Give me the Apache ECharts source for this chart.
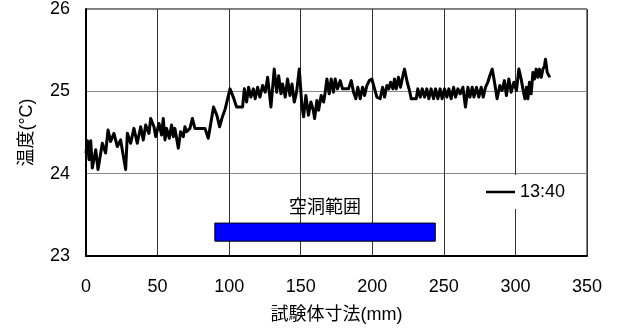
<!DOCTYPE html>
<html>
<head>
<meta charset="utf-8">
<script src="https://cdn.jsdelivr.net/npm/echarts@6/dist/echarts.min.js"></script>
<style>html,body{margin:0;padding:0;background:#fff}#c{width:617px;height:329px}</style>
</head>
<body>
<div id="c"></div>
<script>
const positions = [0,1,2.1,3.3,4.4,6.8,8.4,11.4,13.7,15.4,17.2,19.5,21.9,24.2,26.1,27.7,28.9,31.2,33.5,35.8,38.2,40,41.7,44,45.2,47.5,48.7,51,
52.8,54,55.2,56.3,58.2,59.8,61,62.1,64.5,66.1,68,69.1,70.3,72.6,74.3,76.1,83.1,85.4,89.1,91.4,93.3,94.9,97.3,100.6,102.9,105.2,109.4,
110.6,112.2,113.6,115.2,116.9,118.2,119.9,121.5,123.4,125.2,126.9,129.2,131.5,133.2,134.6,136.2,137.3,139.2,140.8,142.5,143.9,145.5,147.1,149,150.8,152,153.6,155.4,157.1,158.8,159.7,161.3,162.5,164.3,166,167.1,168.3,169.9,171.3,172.9,174.1,175.7,177.6,179.2,183.4,185.3,186.9,188.5,189.9,191.6,193.2,194.6,196.2,197.9,199.7,201.6,203.2,205.5,207.2,208.6,210.2,211.5,212.8,214.4,215.5,216.7,218.3,219.7,221.4,222.5,224.4,226,227.2,230.7,231.8,233.5,234.9,236.5,238.1,239.5,241.1,242.8,244.2,245.8,247.4,248.8,250.5,252.1,253.5,255.1,256.8,258.2,259.8,261.4,263.3,265.1,266.8,268.2,269.8,271,272.8,274.4,276.1,277.5,279.1,280.7,282.1,283.8,285.4,287.2,289.1,290.7,292.3,293.7,295.4,297,298.9,300.7,302.4,304,305.4,306.6,307.7,308.7,309.8,311,312.2,313.3,314.5,315.7,316.8,318,319.2,320.3,321,322.2,324];
const temps1340 = [24.25,24.4,24.17,24.4,24.07,24.29,24.05,24.37,24.25,24.53,24.39,24.49,24.33,24.41,24.21,24.05,24.49,24.37,24.55,24.37,24.57,24.41,24.59,24.49,24.67,24.57,24.45,24.61,
24.47,24.67,24.41,24.55,24.43,24.59,24.45,24.55,24.31,24.51,24.45,24.57,24.51,24.55,24.67,24.55,24.55,24.43,24.81,24.71,24.57,24.67,24.79,25.03,24.93,24.81,24.81,
25.03,24.87,25.05,24.93,25.03,24.91,25.05,24.93,25.07,24.99,25.17,24.81,25.27,24.99,25.19,24.97,25.09,24.93,25.15,24.95,25.09,24.87,24.99,25.27,24.83,24.69,24.95,24.71,24.87,24.77,24.67,24.89,24.77,24.95,24.87,24.99,25.15,24.97,25.15,24.99,25.15,25.03,25.13,25.03,25.03,25.13,24.99,24.91,25.05,24.91,25.05,24.95,25.07,25.13,25.15,25.03,24.93,24.91,25.05,24.93,25.07,25.03,25.11,25.03,25.15,25.03,25.17,25.05,25.19,25.27,25.11,25.01,24.91,24.91,25.03,24.93,25.03,24.93,25.03,24.91,25.03,24.91,25.03,24.91,25.03,24.91,25.03,24.93,25.03,24.91,25.05,24.93,25.03,24.97,25.05,24.81,25.05,24.93,25.05,24.93,25.05,24.93,25.05,24.93,25.05,25.11,25.19,25.27,25.11,24.91,25.07,25.01,25.13,24.95,25.15,24.99,25.11,25.01,25.27,25.15,25.01,24.91,25.05,24.91,25.11,24.97,25.23,25.15,25.27,25.17,25.27,25.17,25.27,25.31,25.39,25.23,25.17];
const seriesName = '13:40';
const cavityStart = 90, cavityEnd = 244, cavityLow = 23.18, cavityHigh = 23.4;
const cavityLabel = '空洞範囲';
const xTitle = '試験体寸法(mm)';
const yTitle = '温度(°C)';

const FONT = "'Liberation Sans', 'Noto Sans CJK JP', sans-serif";
const chart = echarts.init(document.getElementById('c'), null, {renderer: 'canvas'});
chart.setOption({
  animation: false,
  backgroundColor: '#fff',
  textStyle: {fontFamily: FONT, color: '#000'},
  grid: {left: 86, right: 30, top: 7, bottom: 72, show: true, borderColor: '#000', borderWidth: 1, backgroundColor: 'transparent'},
  legend: {
    data: [{name: seriesName, icon: 'rect'}],
    left: 481, top: 175, itemWidth: 29, itemHeight: 2.5,
    padding: [8, 5, 8, 5], backgroundColor: '#fff',
    textStyle: {fontSize: 18, color: '#000', fontFamily: FONT},
    selectedMode: false
  },
  xAxis: {
    type: 'value', min: 0, max: 350, interval: 50,
    name: xTitle, nameLocation: 'middle', nameGap: 50,
    nameTextStyle: {fontSize: 18, color: '#000', fontFamily: FONT},
    axisLine: {show: true, onZero: false, lineStyle: {color: '#000', width: 2}},
    axisTick: {show: false},
    axisLabel: {fontSize: 18, color: '#000', margin: 22, fontFamily: FONT},
    splitLine: {show: true, lineStyle: {color: '#333', width: 1}}
  },
  yAxis: {
    type: 'value', min: 23, max: 26, interval: 1,
    name: yTitle, nameLocation: 'middle', nameGap: 50, nameRotate: 90,
    nameTextStyle: {fontSize: 18, color: '#000', fontFamily: FONT},
    axisLine: {show: true, lineStyle: {color: '#000', width: 2}},
    axisTick: {show: false},
    axisLabel: {fontSize: 18, color: '#000', margin: 16, fontFamily: FONT},
    splitLine: {show: true, lineStyle: {color: '#888', width: 1}}
  },
  series: [{
    name: seriesName, type: 'line',
    data: positions.map((p, i) => [p, temps1340[i]]),
    showSymbol: false, symbol: 'none',
    lineStyle: {color: '#000', width: 3, join: 'round'},
    itemStyle: {color: '#000'},
    markArea: {
      silent: true,
      itemStyle: {color: '#0000FF', borderColor: '#000', borderWidth: 1, opacity: 1},
      label: {show: true, position: 'top', distance: 6, fontSize: 18, color: '#000', fontFamily: FONT},
      data: [[{name: cavityLabel, coord: [cavityStart, cavityLow]}, {coord: [cavityEnd, cavityHigh]}]]
    }
  }]
});
</script>
</body>
</html>
